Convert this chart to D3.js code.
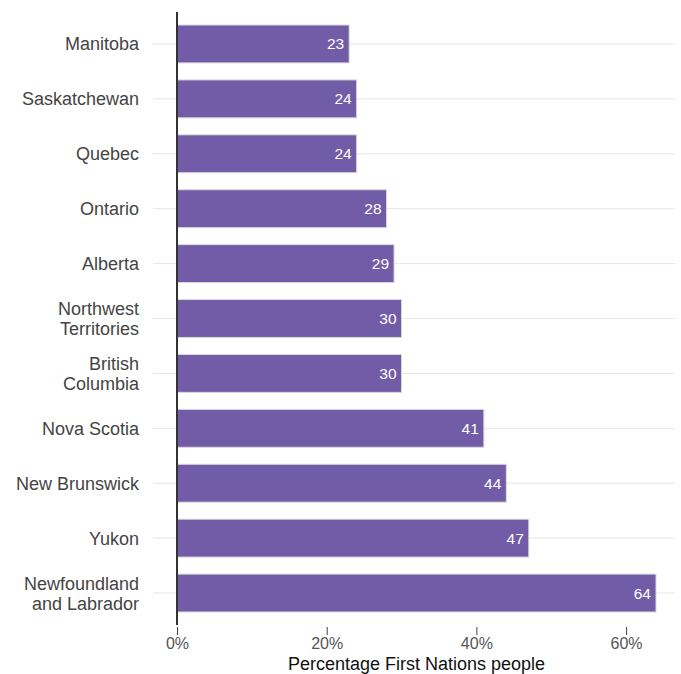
<!DOCTYPE html>
<html>
<head>
<meta charset="utf-8">
<script src="https://cdn.jsdelivr.net/npm/d3@7"></script>
<style>
  body { margin: 0; background: #fff; }
  svg text { font-family: "Liberation Sans", Arial, Helvetica, sans-serif; }
</style>
</head>
<body>
<div id="chart"></div>
<script>
// Percentage of First Nations people, by province/territory
const provinces = [
    "Manitoba", "Saskatchewan", "Quebec", "Ontario", "Alberta",
    "Northwest Territories", "British Columbia", "Nova Scotia",
    "New Brunswick", "Yukon", "Newfoundland and Labrador"
];
const labelLines = [
    ["Manitoba"], ["Saskatchewan"], ["Quebec"], ["Ontario"], ["Alberta"],
    ["Northwest", "Territories"], ["British", "Columbia"], ["Nova Scotia"],
    ["New Brunswick"], ["Yukon"], ["Newfoundland", "and Labrador"]
];
const values = [23, 24, 24, 28, 29, 30, 30, 41, 44, 47, 64];
const xTicks = [0, 20, 40, 60];

const W = 681, H = 674;

const svg = d3.select("#chart")
    .append("svg")
    .attr("width", W)
    .attr("height", H);

const x = d3.scaleLinear()
    .domain([0, 64])
    .range([177, 656]);

const y = d3.scaleBand()
    .domain(provinces)
    .range([16.5, 620.5])
    .paddingInner(0.31)
    .paddingOuter(0.155);

const data = provinces.map((p, i) => ({ name: p, value: values[i], lines: labelLines[i] }));

// Gridlines at category centres
svg.selectAll(".grid")
    .data(data)
    .enter()
    .append("line")
    .attr("x1", 153)
    .attr("x2", 675)
    .attr("y1", d => y(d.name) + y.bandwidth() / 2)
    .attr("y2", d => y(d.name) + y.bandwidth() / 2)
    .attr("stroke", "#e6e6e6")
    .attr("stroke-width", 1);

// Bars
svg.selectAll(".bar")
    .data(data)
    .enter()
    .append("rect")
    .attr("x", x(0))
    .attr("y", d => y(d.name))
    .attr("width", d => x(d.value) - x(0))
    .attr("height", y.bandwidth())
    .attr("fill", "#735ca7")
    .attr("stroke", "#d9d9d9")
    .attr("stroke-width", 1);

// Value labels
svg.selectAll(".val")
    .data(data)
    .enter()
    .append("text")
    .attr("x", d => x(d.value) - 5)
    .attr("y", d => y(d.name) + y.bandwidth() / 2 + 5.5)
    .attr("text-anchor", "end")
    .attr("fill", "#fff")
    .attr("font-size", "15.5px")
    .text(d => d.value);

// Category labels
const cat = svg.selectAll(".cat")
    .data(data)
    .enter()
    .append("text")
    .attr("text-anchor", "end")
    .attr("fill", "#444")
    .attr("font-size", "18px");

cat.each(function(d) {
    const t = d3.select(this);
    const cy = y(d.name) + y.bandwidth() / 2;
    const n = d.lines.length;
    d.lines.forEach((l, k) => {
        t.append("tspan")
            .attr("x", 139)
            .attr("y", cy + 6.5 + (k - (n - 1) / 2) * 20)
            .text(l);
    });
});

// Vertical axis line at 0
svg.append("line")
    .attr("x1", x(0))
    .attr("x2", x(0))
    .attr("y1", 12)
    .attr("y2", 625)
    .attr("stroke", "#333")
    .attr("stroke-width", 2);

// X axis
const xAxis = svg.append("g")
    .attr("transform", "translate(0,627)")
    .call(d3.axisBottom(x).tickValues(xTicks).tickFormat(d => d + "%").tickSize(8).tickPadding(3));
xAxis.select(".domain").remove();
xAxis.selectAll(".tick line").attr("stroke", "#444");
xAxis.selectAll(".tick text")
    .attr("fill", "#555")
    .attr("font-size", "16px")
    .style("font-family", "'Liberation Sans', Arial, sans-serif");

// Axis title
svg.append("text")
    .attr("x", x(32))
    .attr("y", 670)
    .attr("text-anchor", "middle")
    .attr("fill", "#111")
    .attr("font-size", "18px")
    .text("Percentage First Nations people");
</script>
</body>
</html>
